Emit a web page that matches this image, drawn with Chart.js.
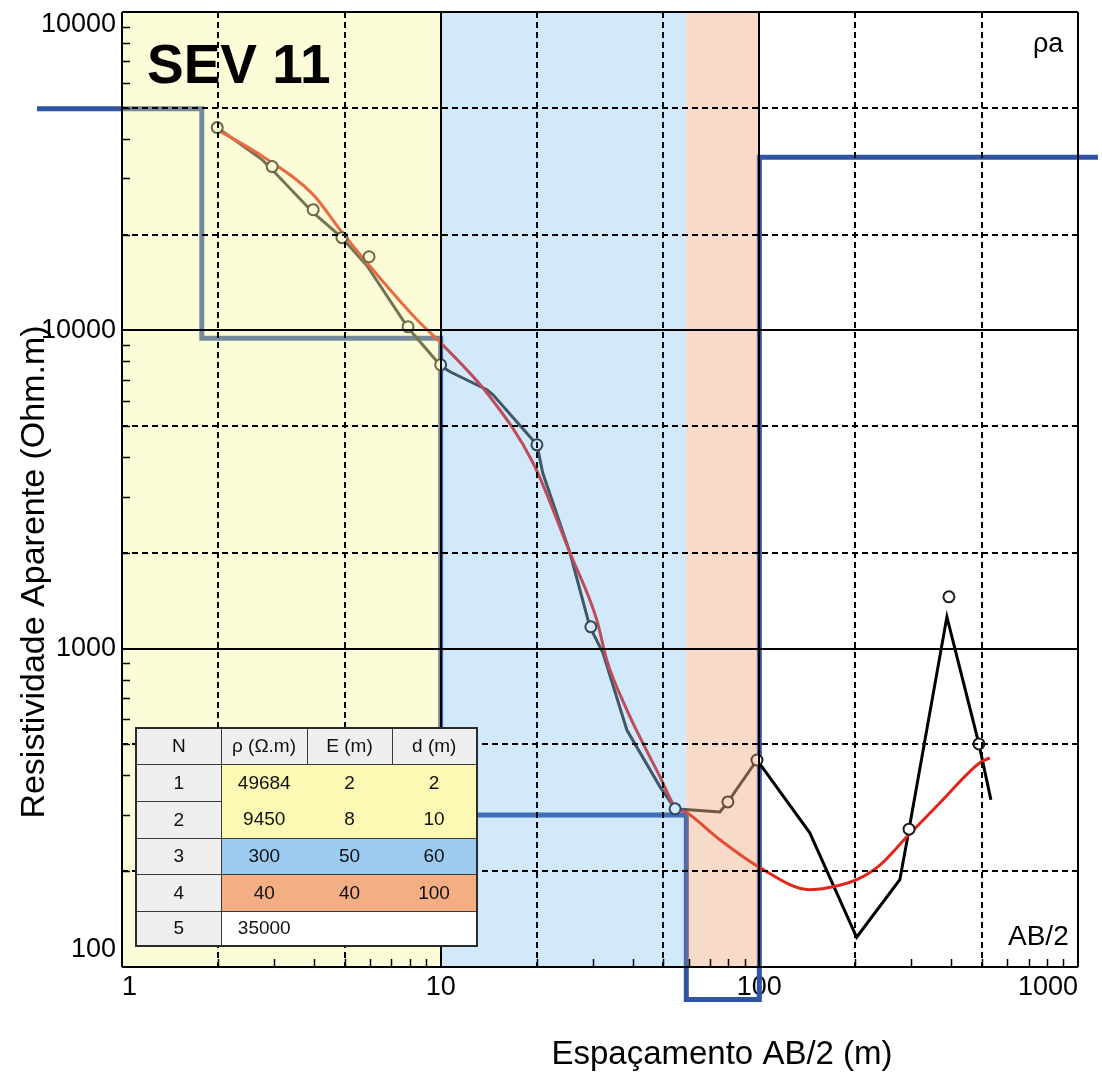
<!DOCTYPE html>
<html><head><meta charset="utf-8">
<script src="https://cdn.jsdelivr.net/npm/chart.js@4/dist/chart.umd.min.js"></script>
<style>
html,body{margin:0;padding:0;background:#fff;}
#wrap{position:relative;width:1102px;height:1077px;overflow:hidden;}
canvas{display:block;}
#tbl{position:absolute;left:135px;top:727px;width:341px;border-collapse:collapse;table-layout:fixed;
 font-family:"Liberation Sans Narrow","Liberation Sans",Arial,sans-serif;font-size:19px;color:#111;border:2px solid #2a2a2a;}
#tbl td{padding:0;text-align:center;vertical-align:middle;white-space:nowrap;overflow:hidden;}
</style></head>
<body>
<div id="wrap"><canvas id="c" width="1102" height="1077"></canvas><table id="tbl"></table></div>
<script>
// ---------- data ----------
const xTickValues = [1,2,3,4,5,6,7,8,9,10,20,30,40,50,60,70,80,90,100,200,300,400,500,600,700,800,900,1000];
const yTickValues = [100,200,300,400,500,600,700,800,900,1000,2000,3000,4000,5000,6000,7000,8000,9000,
  10000,20000,30000,40000,50000,60000,70000,80000,90000,100000];
const xLabelValues = [1,10,100,1000];
const xTickLabels = ['1','10','100','1000'];
const yLabelValues = [100,1000,10000,100000];
const yTickLabels = ['100','1000','10000','10000'];

// measured apparent resistivity points (circles)
const measX = [1.99,2.96,3.98,4.90,5.96,7.90,10,20.05,29.6,54.4,79.7,98.3,295,393.5,488.7];
const measY = [43340,32680,23930,19550,17030,10260,7796,4370,1171,314,330,447,271,1455,502];

// measured field curve (dark line)
const curveX = [1.99,2.75,2.96,3.98,4.90,5.87,7.90,10,10.7,13.97,14.6,20.05,20.9,25.45,29.4,32.3,38.4,48.8,54.4,75.2,79.7,98.3,144,202,276,295,387.8,488.7,533];
const curveY = [43340,34380,31960,23420,19550,15960,10190,7740,7410,6508,6275,4370,3568,2001,1171,970,555,368,314,307,330,447,264,124,188,271,1259,502,335];

// model curve (red)
const modelX = [1.99,2.77,3.98,4.83,5.87,8.43,10,14.28,19.48,25.45,30.9,33.2,38.4,48.8,54.4,59.3,75.2,100.5,144,158,202,239,290,369,492,529];
const modelY = [42700,35130,26690,20720,16310,10800,9140,6185,3836,2001,1232,922,642,395.5,318,305,251,205,175,176,188,209,256,328,438,454];

// layered model (blue step line)
const stepX = [0.541,1.78,10,59,100,1155];
const stepY = [49684,9450,300,79,35000,35000];

// layer regions (AB/2 bounds)
const regionStart = [1,10,59];
const regionEnd = [10,59,100];

// table
const tblHeaders = ['N','ρ (Ω.m)','E (m)','d (m)'];
const layerN = ['1','2','3','4','5'];
const layerRho = ['49684','9450','300','40','35000'];
const layerE = ['2','8','50','40',''];
const layerD = ['2','10','60','100',''];

// ---------- styles ----------
const regionColors = ['rgba(250,247,140,0.34)','rgba(100,180,240,0.29)','rgba(235,150,100,0.35)'];
const rowFills = ['#fdf9b5','#fdf9b5','#9dcbf0','#f3ae83','#ffffff'];
const FONT = '"Liberation Sans", Arial, sans-serif';

// ---------- table ----------
(function buildTable(){
  const t = document.getElementById('tbl');
  const colW = [85,86,85,85];
  const rowH = [36,37,37,36,37,35];
  const line = '1.5px solid #3a3a3a';
  let html = '<colgroup>' + colW.map(w=>'<col style="width:'+w+'px">').join('') + '</colgroup>';
  html += '<tr style="height:'+rowH[0]+'px">' + tblHeaders.map(h=>'<td style="background:#efefef;border:'+line+'">'+h+'</td>').join('') + '</tr>';
  for (let r=0;r<layerN.length;r++){
    const top = (r===1) ? 'none' : line;
    const bot = (r===0) ? 'none' : line;
    const st = 'background:'+rowFills[r]+';border-top:'+top+';border-bottom:'+bot+';border-left:none;border-right:none;';
    html += '<tr style="height:'+rowH[r+1]+'px">';
    html += '<td style="background:#efefef;border:'+line+'">'+layerN[r]+'</td>';
    html += '<td style="'+st+'">'+layerRho[r]+'</td>';
    html += '<td style="'+st+'">'+layerE[r]+'</td>';
    html += '<td style="'+st+'">'+layerD[r]+'</td>';
    html += '</tr>';
  }
  t.innerHTML = html;
})();

// ---------- helpers ----------
function sig(v){ const e = Math.floor(Math.log10(v)+1e-9); return Math.round(v/Math.pow(10,e)); }
function isDecade(v){ return sig(v)===1; }
function isDashed(v){ const s=sig(v); return s===2||s===5; }
const gridColor = ctx => { const t=ctx.tick; if(!t) return '#000'; return (isDecade(t.value)||isDashed(t.value)) ? '#000' : 'rgba(0,0,0,0)'; };
const gridDash = ctx => (ctx.tick && isDashed(ctx.tick.value)) ? [6,4] : [];
const pts = (xs,ys) => xs.map((x,i)=>({x:x,y:ys[i]}));

// ---------- plugins ----------
const regionPlugin = {
  id:'regions',
  afterDatasetsDraw(chart){
    const {ctx, chartArea:a, scales:{x}} = chart;
    ctx.save();
    for (let i=0;i<regionStart.length;i++){
      const x0 = x.getPixelForValue(regionStart[i]);
      const x1 = x.getPixelForValue(regionEnd[i]);
      ctx.fillStyle = regionColors[i];
      ctx.fillRect(x0, a.top, x1-x0, a.bottom-a.top);
    }
    ctx.restore();
  }
};

const decorPlugin = {
  id:'decor',
  afterDraw(chart){
    const {ctx, chartArea:a, scales:{x,y}} = chart;
    ctx.save();
    // inward minor ticks
    ctx.strokeStyle='#000'; ctx.lineWidth=1.5; ctx.beginPath();
    xTickValues.forEach(v=>{ if(isDecade(v)) return; const px=Math.round(x.getPixelForValue(v))+0.5; ctx.moveTo(px,a.bottom); ctx.lineTo(px,a.bottom-8); });
    yTickValues.forEach(v=>{ if(isDecade(v)) return; const py=Math.round(y.getPixelForValue(v))+0.5; ctx.moveTo(a.left,py); ctx.lineTo(a.left+8,py); });
    ctx.stroke();
    // y tick labels
    ctx.fillStyle='#000';
    ctx.font = '27px '+FONT;
    ctx.textAlign='right'; ctx.textBaseline='middle';
    yLabelValues.forEach((v,i)=>{
      let py = y.getPixelForValue(v);
      if (i===yLabelValues.length-1) py += 13;
      if (i===0) py -= 17;
      ctx.fillText(yTickLabels[i], a.left-6, py);
    });
    // axis titles
    ctx.font = '33px '+FONT;
    ctx.textAlign='center'; ctx.textBaseline='alphabetic';
    ctx.fillText('Espaçamento AB/2 (m)', 722, 1064);
    ctx.save();
    ctx.translate(44, 572); ctx.rotate(-Math.PI/2);
    ctx.font = '34px '+FONT;
    ctx.fillText('Resistividade Aparente (Ohm.m)', 0, 0);
    ctx.restore();
    // annotations
    ctx.textAlign='left';
    ctx.font = 'bold 55px '+FONT;
    ctx.fillText('SEV 11', 147, 83);
    ctx.font = '27px '+FONT;
    ctx.fillText('ρa', 1033, 52);
    ctx.font = '28px '+FONT;
    ctx.fillText('AB/2', 1008, 945);
    ctx.restore();
  }
};

// ---------- chart ----------
new Chart(document.getElementById('c'), {
  type:'line',
  data:{ datasets:[
    { label:'Pontos medidos', data:pts(measX,measY), showLine:false, pointRadius:5.5, pointHoverRadius:5.5,
      pointBorderWidth:2, pointBorderColor:'#1e1e1e', pointBackgroundColor:'#ffffff', borderColor:'#1e1e1e', clip:false },
    { label:'Modelo', data:pts(modelX,modelY), borderColor:'#e3241b', borderWidth:3, pointRadius:0,
      cubicInterpolationMode:'monotone', fill:false },
    { label:'Curva de campo', data:pts(curveX,curveY), borderColor:'#333333', borderWidth:3, pointRadius:0, fill:false,
      segment:{ borderColor: c => c.p0.parsed.x >= 98 ? '#000000' : '#333333' } },
    { label:'Camadas', data:pts(stepX,stepY), borderColor:'#2f54a3', borderWidth:5, pointRadius:0, stepped:true,
      clip:false, fill:false, borderJoinStyle:'miter', borderCapStyle:'butt' }
  ]},
  options:{
    responsive:false, animation:false, devicePixelRatio:1, events:[],
    layout:{ padding:{ left:0, top:12, right:24, bottom:0 } },
    plugins:{ legend:{display:false}, tooltip:{enabled:false} },
    scales:{
      x:{ type:'logarithmic', min:1, max:1000,
        afterBuildTicks: s => { s.ticks = xTickValues.map(v=>({value:v})); },
        afterFit: s => { s.height = 110; },
        ticks:{ autoSkip:false, maxRotation:0, minRotation:0, align:'inner', padding:4, color:'#000',
          font:{ family:FONT, size:27 },
          callback: v => { const i = xLabelValues.indexOf(v); return i>=0 ? xTickLabels[i] : ''; } },
        grid:{ color:gridColor, lineWidth:2, drawTicks:false, z:1 },
        border:{ display:false, dash:gridDash }
      },
      y:{ type:'logarithmic', min:100, max:100000,
        afterBuildTicks: s => { s.ticks = yTickValues.map(v=>({value:v})); },
        afterFit: s => { s.width = 122; },
        ticks:{ display:false, autoSkip:false },
        grid:{ color:gridColor, lineWidth:2, drawTicks:false, z:1 },
        border:{ display:false, dash:gridDash }
      }
    }
  },
  plugins:[regionPlugin, decorPlugin]
});
</script>
</body></html>
